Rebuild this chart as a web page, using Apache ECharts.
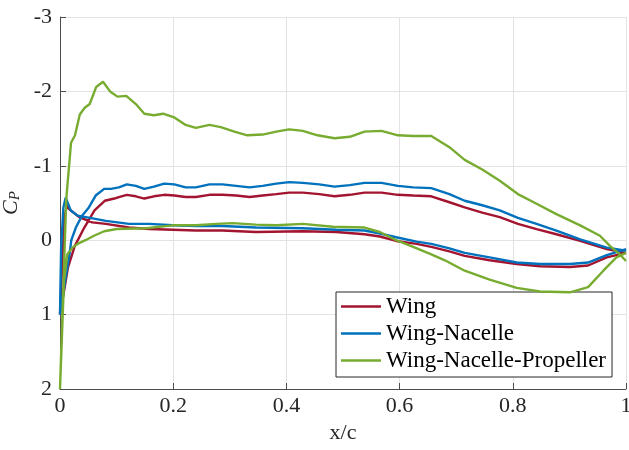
<!DOCTYPE html>
<html>
<head>
<meta charset="utf-8">
<script src="https://cdn.jsdelivr.net/npm/echarts@6/dist/echarts.min.js"></script>
<style>html,body{margin:0;padding:0;background:#fff;}#c{width:629px;height:450px;}</style>
</head>
<body>
<div id="c"></div>
<script>
// ---- data (x/c, Cp) ----
// Wing
const wingUpperX  = [0, 0.005, 0.014, 0.026, 0.043, 0.061, 0.079, 0.096, 0.104, 0.118, 0.134, 0.149, 0.166, 0.184, 0.202, 0.222, 0.240, 0.264, 0.287, 0.311, 0.335, 0.358, 0.382, 0.405, 0.429, 0.458, 0.485, 0.512, 0.538, 0.568, 0.597, 0.624, 0.656, 0.688, 0.715, 0.746, 0.777, 0.809, 0.842, 0.877, 0.919, 0.966, 1.0];
const wingUpperCp = [1.0, 0.78, 0.37, 0.08, -0.17, -0.40, -0.53, -0.56, -0.58, -0.61, -0.59, -0.56, -0.59, -0.61, -0.60, -0.58, -0.58, -0.61, -0.61, -0.60, -0.58, -0.60, -0.62, -0.64, -0.64, -0.62, -0.59, -0.61, -0.64, -0.64, -0.61, -0.60, -0.59, -0.51, -0.44, -0.37, -0.31, -0.22, -0.15, -0.08, 0.01, 0.12, 0.17];
const wingLowerX  = [0, 0.004, 0.008, 0.012, 0.016, 0.034, 0.057, 0.081, 0.122, 0.158, 0.199, 0.240, 0.287, 0.346, 0.429, 0.488, 0.538, 0.565, 0.594, 0.630, 0.656, 0.688, 0.715, 0.759, 0.807, 0.848, 0.901, 0.933, 0.966, 1.0];
const wingLowerCp = [1.0, 0.30, -0.30, -0.47, -0.42, -0.31, -0.24, -0.22, -0.17, -0.15, -0.14, -0.13, -0.13, -0.11, -0.12, -0.11, -0.08, -0.05, 0.01, 0.05, 0.09, 0.15, 0.21, 0.27, 0.32, 0.35, 0.36, 0.34, 0.23, 0.17];
// Wing-Nacelle
const nacUpperX  = [0, 0.008, 0.017, 0.020, 0.028, 0.039, 0.051, 0.063, 0.078, 0.090, 0.104, 0.118, 0.134, 0.149, 0.166, 0.184, 0.202, 0.222, 0.240, 0.264, 0.287, 0.311, 0.335, 0.358, 0.382, 0.405, 0.429, 0.458, 0.485, 0.512, 0.538, 0.568, 0.597, 0.624, 0.656, 0.688, 0.715, 0.746, 0.777, 0.809, 0.842, 0.877, 0.919, 0.966, 1.0];
const nacUpperCp = [1.0, 0.60, 0.18, 0.0, -0.17, -0.33, -0.44, -0.60, -0.69, -0.69, -0.71, -0.75, -0.73, -0.69, -0.72, -0.76, -0.75, -0.71, -0.71, -0.75, -0.75, -0.73, -0.71, -0.73, -0.76, -0.78, -0.77, -0.75, -0.72, -0.74, -0.77, -0.77, -0.73, -0.71, -0.70, -0.62, -0.53, -0.47, -0.40, -0.30, -0.22, -0.13, -0.01, 0.10, 0.14];
const nacLowerX  = [0, 0.002, 0.006, 0.010, 0.013, 0.019, 0.031, 0.060, 0.081, 0.122, 0.158, 0.199, 0.240, 0.287, 0.346, 0.429, 0.488, 0.538, 0.565, 0.594, 0.630, 0.656, 0.688, 0.715, 0.759, 0.807, 0.848, 0.901, 0.933, 0.966, 1.0];
const nacLowerCp = [1.0, 0.10, -0.44, -0.57, -0.55, -0.40, -0.33, -0.29, -0.26, -0.22, -0.22, -0.20, -0.19, -0.19, -0.17, -0.16, -0.14, -0.13, -0.09, -0.04, 0.02, 0.05, 0.11, 0.17, 0.23, 0.30, 0.32, 0.32, 0.30, 0.20, 0.12];
// Wing-Nacelle-Propeller
const propUpperX  = [0, 0.011, 0.0195, 0.0265, 0.035, 0.0437, 0.0525, 0.064, 0.076, 0.0885, 0.1015, 0.117, 0.134, 0.149, 0.166, 0.182, 0.202, 0.222, 0.240, 0.264, 0.284, 0.308, 0.331, 0.358, 0.382, 0.405, 0.429, 0.455, 0.485, 0.512, 0.538, 0.568, 0.597, 0.624, 0.656, 0.688, 0.715, 0.746, 0.777, 0.809, 0.842, 0.877, 0.919, 0.954, 0.972, 0.989, 1.0];
const propUpperCp = [2.0, -0.55, -1.31, -1.41, -1.69, -1.78, -1.83, -2.06, -2.13, -2.00, -1.93, -1.94, -1.83, -1.70, -1.68, -1.70, -1.65, -1.55, -1.51, -1.55, -1.52, -1.46, -1.41, -1.42, -1.46, -1.49, -1.47, -1.41, -1.37, -1.39, -1.46, -1.47, -1.41, -1.40, -1.40, -1.25, -1.08, -0.95, -0.80, -0.62, -0.49, -0.35, -0.20, -0.06, 0.08, 0.19, 0.28];
const propLowerX  = [0, 0.007, 0.013, 0.022, 0.031, 0.045, 0.060, 0.078, 0.100, 0.152, 0.199, 0.240, 0.276, 0.305, 0.346, 0.382, 0.429, 0.482, 0.538, 0.565, 0.594, 0.624, 0.656, 0.680, 0.715, 0.759, 0.807, 0.848, 0.901, 0.933, 0.960, 0.983, 1.0];
const propLowerCp = [2.0, 0.55, 0.19, 0.10, 0.05, 0.0, -0.06, -0.12, -0.15, -0.16, -0.20, -0.20, -0.22, -0.23, -0.21, -0.20, -0.22, -0.18, -0.17, -0.11, 0.0, 0.09, 0.19, 0.27, 0.41, 0.53, 0.64, 0.69, 0.70, 0.63, 0.41, 0.23, 0.17];

const seriesNames = ['Wing', 'Wing-Nacelle', 'Wing-Nacelle-Propeller'];
const seriesColors = ['#A2142F', '#0072BD', '#77AC30'];
const xTicks = {min: 0, max: 1, interval: 0.2};
const yTicks = {min: -3, max: 2, interval: 1};

function loop(ux, uc, lx, lc) {
  const pts = [];
  for (let i = ux.length - 1; i >= 0; i--) pts.push([ux[i], uc[i]]);
  for (let i = 1; i < lx.length; i++) pts.push([lx[i], lc[i]]);
  return pts;
}
const dataSets = [
  loop(wingUpperX, wingUpperCp, wingLowerX, wingLowerCp),
  loop(nacUpperX, nacUpperCp, nacLowerX, nacLowerCp),
  loop(propUpperX, propUpperCp, propLowerX, propLowerCp)
];

const FONT = 'Liberation Serif';
const chart = echarts.init(document.getElementById('c'), null, {renderer: 'canvas'});
chart.setOption({
  animation: false,
  backgroundColor: '#ffffff',
  grid: {left: 60, right: 3, top: 17, bottom: 61, containLabel: false, outerBoundsMode: 'none'},
  xAxis: {
    type: 'value', min: xTicks.min, max: xTicks.max, interval: xTicks.interval,
    name: 'x/c', nameLocation: 'middle', nameGap: 33,
    nameTextStyle: {fontFamily: FONT, fontSize: 22, color: '#262626'},
    axisLine: {show: true, onZero: false, lineStyle: {color: '#4d4d4d', width: 1}},
    axisTick: {show: true, inside: true, length: 6, lineStyle: {color: '#4d4d4d'}},
    axisLabel: {fontFamily: FONT, fontSize: 22, color: '#262626', margin: 6},
    splitLine: {show: true, lineStyle: {color: '#e3e3e3', width: 1}}
  },
  yAxis: {
    type: 'value', inverse: true, min: yTicks.min, max: yTicks.max, interval: yTicks.interval,
    name: '{c|C}{s|P}', nameLocation: 'middle', nameGap: 30, nameRotate: 90,
    nameTextStyle: {
      fontFamily: FONT, color: '#262626',
      rich: {
        c: {fontFamily: FONT, fontStyle: 'italic', fontSize: 22, color: '#262626'},
        s: {fontFamily: FONT, fontStyle: 'italic', fontSize: 15, color: '#262626', padding: [8, 0, 0, 0]}
      }
    },
    axisLine: {show: true, onZero: false, lineStyle: {color: '#4d4d4d', width: 1}},
    axisTick: {show: true, inside: true, length: 6, lineStyle: {color: '#4d4d4d'}},
    axisLabel: {fontFamily: FONT, fontSize: 22, color: '#262626', margin: 8},
    splitLine: {show: true, lineStyle: {color: '#e3e3e3', width: 1}}
  },
  legend: {
    show: true, orient: 'vertical', left: 336, top: 292,
    icon: 'rect', itemWidth: 40, itemHeight: 2.5, itemGap: 0, itemTextGap: 4,
    padding: [1, 6, 3, 5],
    backgroundColor: '#ffffff', borderColor: '#262626', borderWidth: 1, borderRadius: 0,
    textStyle: {fontFamily: FONT, fontSize: 23, color: '#000000', lineHeight: 27},
    data: seriesNames
  },
  series: dataSets.map((d, i) => ({
    name: seriesNames[i], type: 'line', data: d,
    showSymbol: false, symbol: 'none', smooth: false,
    lineStyle: {color: seriesColors[i], width: 2.4},
    itemStyle: {color: seriesColors[i]},
    z: 2 + i
  }))
});
</script>
</body>
</html>
